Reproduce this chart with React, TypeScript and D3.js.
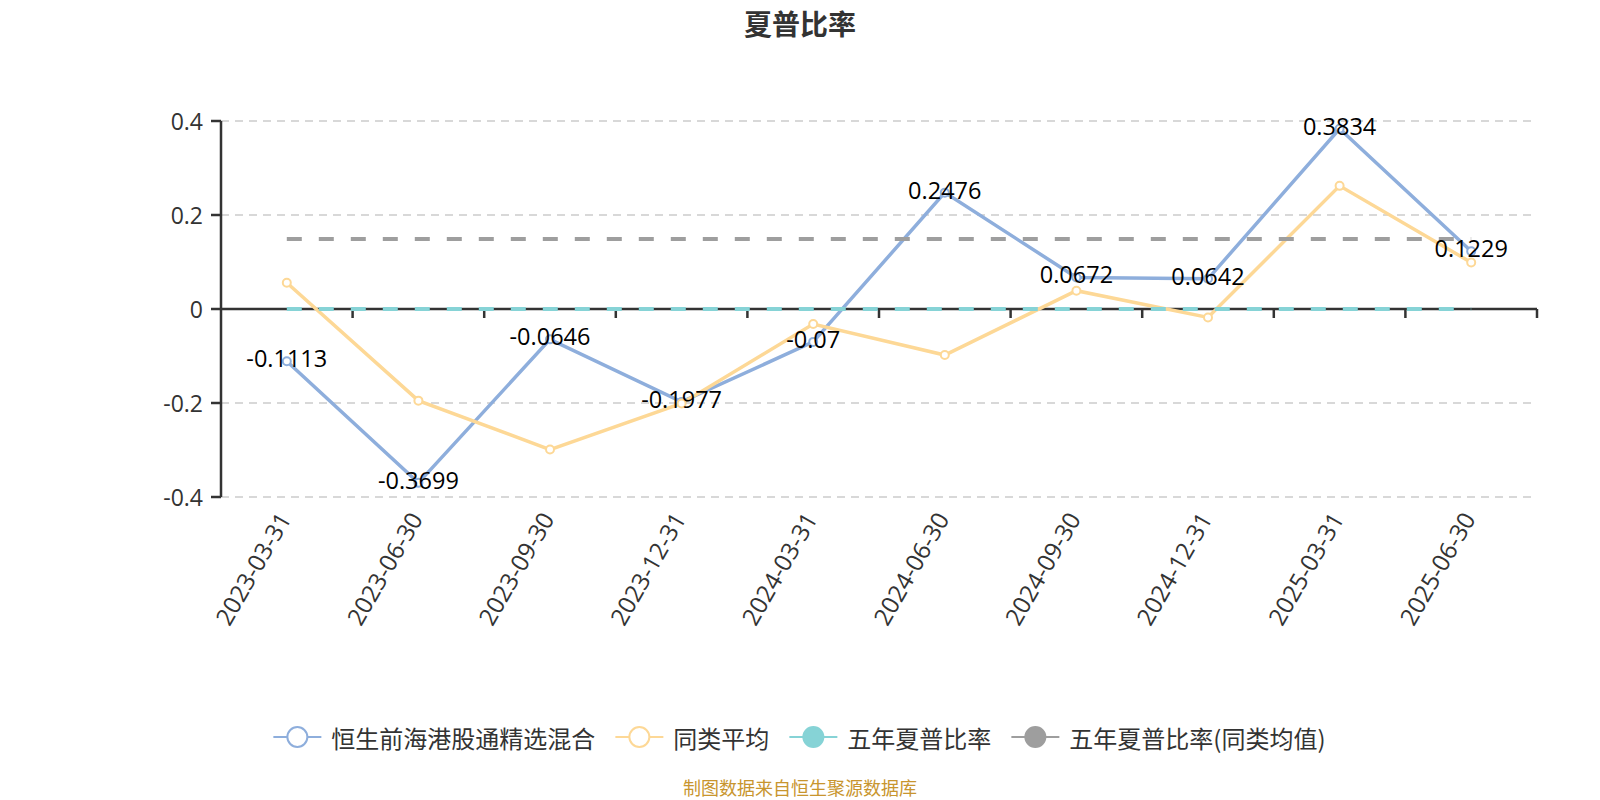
import React from "react";
import * as d3 from "d3";

const dates = [
  "2023-03-31", "2023-06-30", "2023-09-30", "2023-12-31", "2024-03-31",
  "2024-06-30", "2024-09-30", "2024-12-31", "2025-03-31", "2025-06-30",
];
const fundSharpe = [-0.1113, -0.3699, -0.0646, -0.1977, -0.07, 0.2476, 0.0672, 0.0642, 0.3834, 0.1229];
const peerAvg = [0.056, -0.195, -0.299, -0.201, -0.032, -0.098, 0.039, -0.018, 0.262, 0.099];
const fiveYearSharpe = [0, 0, 0, 0, 0, 0, 0, 0, 0, 0];
const fiveYearPeer = [0.149, 0.149, 0.149, 0.149, 0.149, 0.149, 0.149, 0.149, 0.149, 0.149];
const yTicks = [-0.4, -0.2, 0, 0.2, 0.4];

const seriesNames = ["恒生前海港股通精选混合", "同类平均", "五年夏普比率", "五年夏普比率(同类均值)"];
const colors = ["#8eaedc", "#fdd896", "#86d3d6", "#9e9e9e"];

const FONT = '"Open Sans", "Noto Sans CJK SC", sans-serif';
const CJK = '"Noto Sans CJK SC", sans-serif';

const W = 1600;
const H = 800;
const left = 221;
const right = 1537;
const top = 121;
const bottom = 497;

// rough text width for legend layout
const textW = (s: string, size: number) =>
  Array.from(s).reduce((acc, ch) => acc + (/[\u4e00-\u9fff]/.test(ch) ? size : size * 0.36), 0);

export default function App() {
  const x = d3.scaleBand<string>().domain(dates).range([left, right]);
  const cx = (d: string) => (x(d) as number) + x.bandwidth() / 2;
  const y = d3.scaleLinear().domain([-0.4, 0.4]).range([bottom, top]);

  const line = d3
    .line<number>()
    .x((_, i) => cx(dates[i]))
    .y((d) => y(d));

  // legend layout
  const iconW = 48;
  const legendFont = 24;
  const itemWidths = seriesNames.map((n) => iconW + 10 + textW(n, legendFont));
  const legendTotal = d3.sum(itemWidths) + 20 * (seriesNames.length - 1);
  let lx = 800 - legendTotal / 2;
  const legendY = 737;
  const legendItems = seriesNames.map((n, i) => {
    const start = lx;
    lx += itemWidths[i] + 20;
    return { name: n, x: start, color: colors[i], filled: i >= 2 };
  });

  return (
    <div style={{ position: "absolute", left: 0, top: 0 }}>
      <svg width={W} height={H} style={{ display: "block", fontFamily: FONT }}>
        <rect width={W} height={H} fill="#fff" />

        <text x={800} y={23} textAnchor="middle" dominantBaseline="central" fontSize={28} fontWeight="bold" fill="#333" fontFamily={CJK}>
          夏普比率
        </text>

        {/* grid lines */}
        {yTicks
          .filter((t) => t !== 0)
          .map((t) => (
            <line key={t} x1={left} x2={right} y1={y(t)} y2={y(t)} stroke="#ccc" strokeWidth={1.5} strokeDasharray="8,6" />
          ))}

        {/* y axis */}
        <line x1={left} x2={left} y1={top} y2={bottom} stroke="#333" strokeWidth={2.5} />
        {yTicks.map((t) => (
          <g key={t}>
            <line x1={left - 10} x2={left} y1={y(t)} y2={y(t)} stroke="#333" strokeWidth={2.5} />
            <text x={left - 18} y={y(t)} textAnchor="end" dominantBaseline="central" fontSize={23} fill="#333">
              {String(t)}
            </text>
          </g>
        ))}

        {/* x axis on zero */}
        <line x1={left} x2={right} y1={y(0)} y2={y(0)} stroke="#333" strokeWidth={2.5} />
        {dates.map((d) => (
          <line key={d} x1={(x(d) as number) + x.bandwidth()} x2={(x(d) as number) + x.bandwidth()} y1={y(0)} y2={y(0) + 9} stroke="#333" strokeWidth={2.5} />
        ))}
        {dates.map((d) => (
          <text
            key={d}
            transform={`translate(${cx(d) - 3},${bottom + 17}) rotate(-60)`}
            textAnchor="end"
            dominantBaseline="central"
            fontSize={24}
            fill="#333"
          >
            {d}
          </text>
        ))}

        {/* series */}
        <path d={line(fundSharpe) as string} fill="none" stroke={colors[0]} strokeWidth={3.5} />
        <path d={line(peerAvg) as string} fill="none" stroke={colors[1]} strokeWidth={3.5} />
        <path d={line(fiveYearSharpe) as string} fill="none" stroke={colors[2]} strokeWidth={4} strokeDasharray="15,17" />
        <path d={line(fiveYearPeer) as string} fill="none" stroke={colors[3]} strokeWidth={4} strokeDasharray="15,17" />

        {fundSharpe.map((v, i) => (
          <circle key={"f" + i} cx={cx(dates[i])} cy={y(v)} r={4} fill="#fff" stroke={colors[0]} strokeWidth={2} />
        ))}
        {peerAvg.map((v, i) => (
          <circle key={"p" + i} cx={cx(dates[i])} cy={y(v)} r={4} fill="#fff" stroke={colors[1]} strokeWidth={2} />
        ))}

        {fundSharpe.map((v, i) => (
          <text key={"l" + i} x={cx(dates[i])} y={y(v) - 3} textAnchor="middle" dominantBaseline="central" fontSize={23.5} fill="#000">
            {String(v)}
          </text>
        ))}

        {/* legend */}
        {legendItems.map((it) => (
          <g key={it.name}>
            <line x1={it.x} x2={it.x + iconW} y1={legendY} y2={legendY} stroke={it.color} strokeWidth={2} />
            <circle
              cx={it.x + iconW / 2}
              cy={legendY}
              r={10}
              fill={it.filled ? it.color : "#fff"}
              stroke={it.color}
              strokeWidth={2}
            />
            <text x={it.x + iconW + 10} y={legendY} dominantBaseline="central" fontSize={legendFont} fill="#333" fontFamily={CJK}>
              {it.name}
            </text>
          </g>
        ))}

        <text x={800} y={787} textAnchor="middle" dominantBaseline="central" fontSize={18} fill="#c8952e" fontFamily={CJK}>
          制图数据来自恒生聚源数据库
        </text>
      </svg>
    </div>
  );
}
